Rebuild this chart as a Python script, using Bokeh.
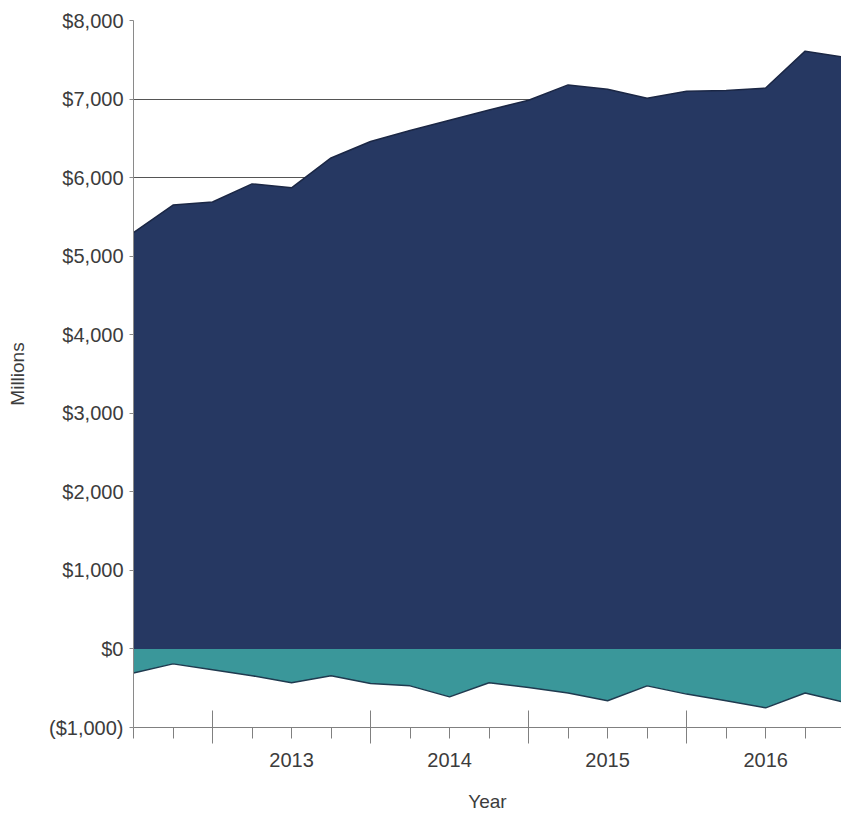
from bokeh.plotting import figure
from bokeh.models import LinearAxis, FixedTicker, Range1d, CustomLabelingPolicy
from bokeh.embed import file_html
from bokeh.resources import INLINE

# ---- data (quarterly, $ millions) ----
quarters = [2012.5, 2012.75, 2013.0, 2013.25, 2013.5, 2013.75, 2014.0, 2014.25,
            2014.5, 2014.75, 2015.0, 2015.25, 2015.5, 2015.75, 2016.0, 2016.25,
            2016.5, 2016.75, 2017.0]
positive_series = [5300, 5650, 5690, 5920, 5870, 6250, 6460, 6600, 6730, 6860,
                   6985, 7180, 7125, 7010, 7100, 7110, 7140, 7610, 7530]
negative_series = [-305, -190, -265, -340, -430, -340, -440, -470, -610, -430,
                   -490, -560, -660, -470, -575, -660, -750, -560, -680]

year_bounds = [2013, 2014, 2015, 2016]
year_mids = [2013.5, 2014.5, 2015.5, 2016.5]
year_labels = ["2013", "2014", "2015", "2016"]
y_ticks = [-1000, 0, 1000, 2000, 3000, 4000, 5000, 6000, 7000, 8000]

x_start, x_end = 2012.5, 2016.98
y_start, y_end = -1000, 8000

FONT = "Liberation Sans"
TXT = "#3c3c3c"
NAVY = "#263862"
TEAL = "#3a979a"


def money(v):
    return f"${v:,}" if v >= 0 else f"(${-v:,})"


p = figure(width=841, height=814, output_backend="svg", toolbar_location=None,
           x_range=Range1d(x_start, x_end), y_range=Range1d(y_start, y_end),
           min_border_left=133, min_border_top=20, min_border_right=0,
           min_border_bottom=0, background_fill_color="white")
p.outline_line_color = None
p.xgrid.visible = False
p.ygrid.grid_line_color = "#555555"
p.ygrid.grid_line_width = 1

p.varea(x=quarters, y1=[0] * len(quarters), y2=positive_series, fill_color=NAVY)
p.varea(x=quarters, y1=negative_series, y2=[0] * len(quarters), fill_color=TEAL)
p.line(quarters, positive_series, line_color="#1b2745", line_width=1.5)
p.line(quarters, negative_series, line_color="#1f3a4f", line_width=1.5)

# y axis
ya = p.yaxis[0]
ya.ticker = FixedTicker(ticks=y_ticks)
ya.major_label_overrides = {v: money(v) for v in y_ticks}
ya.major_tick_in = 0
ya.major_tick_out = 4
ya.minor_tick_line_color = None
ya.axis_line_color = "#8a8a8a"
ya.major_tick_line_color = "#8a8a8a"
ya.major_label_standoff = 6
ya.major_label_text_font = FONT
ya.major_label_text_font_size = "20px"
ya.major_label_text_color = TXT
ya.axis_label = "Millions"
ya.axis_label_text_font = FONT
ya.axis_label_text_font_size = "19px"
ya.axis_label_text_font_style = "normal"
ya.axis_label_text_color = TXT
ya.axis_label_standoff = 18

# x axis: tick marks only (labels suppressed)
xa = p.xaxis[0]
xa.ticker = FixedTicker(ticks=year_bounds, minor_ticks=quarters)
xa.major_tick_in = 17
xa.major_tick_out = 16
xa.minor_tick_in = 0
xa.minor_tick_out = 11
xa.axis_line_color = "#808080"
xa.major_tick_line_color = "#808080"
xa.minor_tick_line_color = "#808080"
xa.major_label_policy = CustomLabelingPolicy(code="return new Set()")
xa.major_label_text_font_size = "0px"
xa.major_label_standoff = 0

# x axis: year labels centred in each year
xl = LinearAxis(ticker=FixedTicker(ticks=year_mids),
                major_label_overrides={m: l for m, l in zip(year_mids, year_labels)})
xl.axis_line_color = None
xl.major_tick_line_color = None
xl.minor_tick_line_color = None
xl.major_tick_in = 0
xl.major_tick_out = 0
xl.major_label_standoff = 9
xl.major_label_text_font = FONT
xl.major_label_text_font_size = "20px"
xl.major_label_text_color = TXT
xl.axis_label = "Year"
xl.axis_label_text_font = FONT
xl.axis_label_text_font_size = "19px"
xl.axis_label_text_font_style = "normal"
xl.axis_label_text_color = TXT
xl.axis_label_standoff = 21
p.add_layout(xl, "below")

open("out.html", "w").write(file_html(p, INLINE))
